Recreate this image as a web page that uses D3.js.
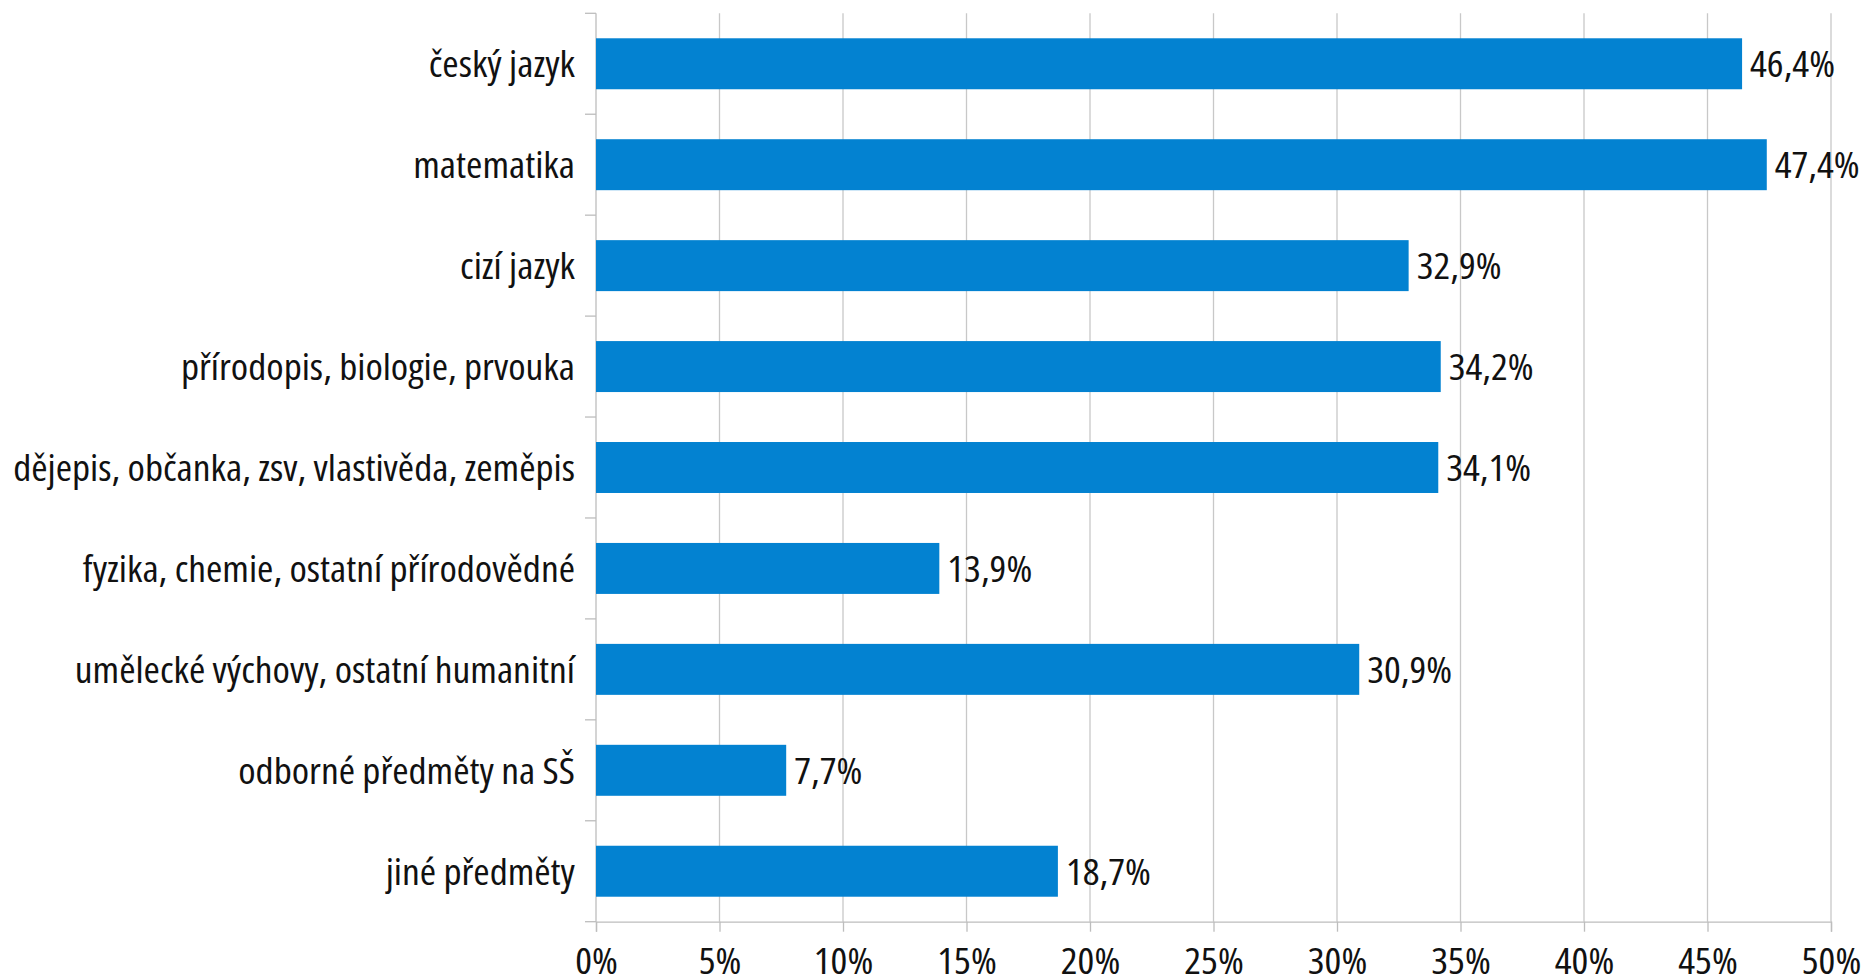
<!DOCTYPE html>
<html>
<head>
<meta charset="utf-8">
<script src="https://cdn.jsdelivr.net/npm/d3@7"></script>
<style>
  html, body { margin: 0; padding: 0; background: #fff; }
  svg text { font-family: "Open Sans", "Noto Sans", "DejaVu Sans Condensed", sans-serif; font-stretch: 80%; fill: #111; }
</style>
</head>
<body>
<svg id="chart" width="1862" height="978"></svg>
<script>
const categories = [
  "český jazyk",
  "matematika",
  "cizí jazyk",
  "přírodopis, biologie, prvouka",
  "dějepis, občanka, zsv, vlastivěda, zeměpis",
  "fyzika, chemie, ostatní přírodovědné",
  "umělecké výchovy, ostatní humanitní",
  "odborné předměty na SŠ",
  "jiné předměty"
];
const values = [46.4, 47.4, 32.9, 34.2, 34.1, 13.9, 30.9, 7.7, 18.7];
const tickValues = [0, 5, 10, 15, 20, 25, 30, 35, 40, 45, 50];

const svg = d3.select("#chart");
const plotLeft = 596, plotRight = 1831, plotTop = 13.3, plotBottom = 921.7;
const fontSize = 37;
const gridColor = "#c8c8c8";
const axisColor = "#bdbdbd";
const barColor = "#0382d1";

const x = d3.scaleLinear().domain([0, 50]).range([plotLeft, plotRight]);
const y = d3.scaleBand().domain(categories).range([plotTop, plotBottom]).paddingInner(0.495).paddingOuter(0.2475);

const fmt = v => d3.format(".1f")(v).replace(".", ",") + "%";

// horizontal fit so the text width matches the condensed face of the reference
const probe = svg.append("text").attr("font-size", fontSize).text(categories[4]);
const probeLen = probe.node().getComputedTextLength();
probe.remove();
const k = Math.max(0.6, Math.min(1.15, 562 / probeLen));

// vertical gridlines
svg.append("g").selectAll("line").data(tickValues.slice(1)).join("line")
  .attr("x1", d => x(d)).attr("x2", d => x(d))
  .attr("y1", plotTop).attr("y2", plotBottom)
  .attr("stroke", gridColor).attr("stroke-width", 1.3);

// x axis
const xAxis = svg.append("g").attr("transform", `translate(0,${plotBottom})`)
  .call(d3.axisBottom(x).tickValues(tickValues).tickFormat(d => d + "%").tickSize(10).tickPadding(16));
xAxis.attr("font-family", null).attr("font-size", null);
xAxis.select(".domain").attr("stroke", axisColor).attr("stroke-width", 1.3);
xAxis.selectAll(".tick line").attr("stroke", axisColor).attr("stroke-width", 1.3);
xAxis.selectAll(".tick text").attr("font-size", fontSize).attr("fill", "#111")
  .attr("transform", `scale(${k},1)`);

// y axis line and ticks at band boundaries
const boundaries = categories.map(c => y(c) - y.step() * y.paddingInner() / 2);
boundaries.push(plotBottom);
svg.append("line").attr("x1", plotLeft).attr("x2", plotLeft).attr("y1", plotTop).attr("y2", plotBottom)
  .attr("stroke", axisColor).attr("stroke-width", 1.3);
svg.append("g").selectAll("line").data(boundaries).join("line")
  .attr("x1", plotLeft - 11).attr("x2", plotLeft)
  .attr("y1", d => d).attr("y2", d => d)
  .attr("stroke", axisColor).attr("stroke-width", 1.3);

// bars
svg.append("g").selectAll("rect").data(values).join("rect")
  .attr("x", x(0)).attr("y", (d, i) => y(categories[i]))
  .attr("width", d => x(d) - x(0)).attr("height", y.bandwidth())
  .attr("fill", barColor);

// category labels
svg.append("g").selectAll("text").data(categories).join("text")
  .attr("transform", d => `translate(${plotLeft - 21},${y(d) + y.bandwidth() / 2}) scale(${k},1)`)
  .attr("dy", "0.36em").attr("text-anchor", "end").attr("font-size", fontSize)
  .text(d => d);

// value labels
svg.append("g").selectAll("text").data(values).join("text")
  .attr("transform", (d, i) => `translate(${x(d) + 8},${y(categories[i]) + y.bandwidth() / 2}) scale(${k},1)`)
  .attr("dy", "0.36em").attr("font-size", fontSize)
  .text(d => fmt(d));
</script>
</body>
</html>
